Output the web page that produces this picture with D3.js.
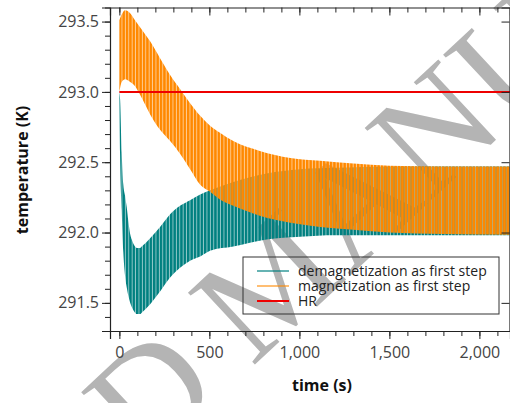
<!DOCTYPE html>
<html>
<head>
<meta charset="utf-8">
<script src="https://cdn.jsdelivr.net/npm/d3@7"></script>
<style>
  body { margin: 0; background: #fff; }
  svg { display: block; font-family: "Open Sans", sans-serif; }
  .axis path, .axis line { stroke: #222; }
  .axis text { fill: #444; font-size: 16px; font-family: "Open Sans", sans-serif; }
</style>
</head>
<body>
<svg id="chart"></svg>
<script>
// envelope of the oscillating temperature, magnetization as first step
const magTime  = [0, 13, 32, 60, 87, 115, 143, 171, 226, 282, 337, 393, 449, 504, 559, 633, 780, 950, 1115, 1300, 1500, 1800, 2170];
const magUpper = [293.51, 293.55, 293.58, 293.56, 293.51, 293.46, 293.41, 293.36, 293.24, 293.12, 293.02, 292.92, 292.83, 292.76, 292.71, 292.65, 292.58, 292.53, 292.51, 292.49, 292.475, 292.47, 292.47];
const magLower = [293.0, 293.07, 293.09, 293.07, 293.04, 292.98, 292.91, 292.84, 292.73, 292.65, 292.56, 292.45, 292.34, 292.29, 292.235, 292.19, 292.12, 292.07, 292.04, 292.02, 292.0, 291.99, 291.985];

// demagnetization as first step
const demagTime  = [0, 4, 13, 22, 32, 41, 50, 60, 69, 87, 97, 115, 124, 171, 226, 282, 337, 393, 449, 504, 633, 818, 1004, 1200, 1500, 2170];
const demagUpper = [293.0, 292.95, 292.57, 292.34, 292.26, 292.18, 292.08, 291.99, 291.95, 291.90, 291.89, 291.89, 291.90, 291.96, 292.04, 292.13, 292.19, 292.23, 292.27, 292.30, 292.36, 292.42, 292.45, 292.46, 292.47, 292.47];
const demagLower = [293.0, 292.55, 292.16, 291.86, 291.69, 291.61, 291.55, 291.50, 291.47, 291.43, 291.42, 291.42, 291.43, 291.49, 291.58, 291.68, 291.75, 291.80, 291.83, 291.87, 291.90, 291.95, 291.97, 291.98, 291.98, 291.98];

const hrValue = 293.0;
const xMajor = [0, 500, 1000, 1500, 2000];
const yMajor = [291.5, 292.0, 292.5, 293.0, 293.5];
const legendNames = ["demagnetization as first step", "magnetization as first step", "HR"];

const width = 510, height = 403;
const margin = {top: 7.5, right: 0, bottom: 72, left: 110};

const svg = d3.select("#chart").attr("width", width).attr("height", height);
svg.append("rect").attr("width", width).attr("height", height).attr("fill", "#fff");

// watermark behind the chart
const wm = svg.append("text")
    .text("ACCEPTED MANUSCRIPT")
    .attr("font-family", "Liberation Serif")
    .attr("font-size", 150)
    .attr("fill", "#b4b4b4");
const off = wm.node().getSubStringLength(0, 7);
wm.attr("transform", `translate(145,467) rotate(-43) translate(${-off},0)`);

const x = d3.scaleLinear().domain([-52, 2170]).range([margin.left, width - margin.right]);
const y = d3.scaleLinear().domain([291.3, 293.6]).range([height - margin.bottom, margin.top]);

const defs = svg.append("defs");
defs.append("clipPath").attr("id", "clip")
  .append("rect")
    .attr("x", margin.left).attr("y", margin.top)
    .attr("width", width - margin.left - margin.right)
    .attr("height", height - margin.top - margin.bottom);

function stripes(id, color) {
    const p = defs.append("pattern").attr("id", id)
        .attr("patternUnits", "userSpaceOnUse")
        .attr("width", 3.4).attr("height", 10);
    p.append("rect").attr("width", 2.5).attr("height", 10).attr("fill", color);
    p.append("rect").attr("x", 2.5).attr("width", 0.9).attr("height", 10)
        .attr("fill", color).attr("fill-opacity", 0.4);
}
stripes("tealStripes", "#008080");
stripes("orangeStripes", "#ff8800");

const plot = svg.append("g").attr("clip-path", "url(#clip)");

const area = d3.area()
    .x(d => x(d.t))
    .y0(d => y(d.lo))
    .y1(d => y(d.hi))
    .curve(d3.curveMonotoneX);

const demag = demagTime.map((t, i) => ({t: t, hi: demagUpper[i], lo: demagLower[i]}));
const mag = magTime.map((t, i) => ({t: t, hi: magUpper[i], lo: magLower[i]}));

plot.append("path").datum(demag).attr("d", area).attr("fill", "url(#tealStripes)");
plot.append("path").datum(mag).attr("d", area).attr("fill", "url(#orangeStripes)");

plot.append("line")
    .attr("x1", x(0)).attr("x2", x(2170))
    .attr("y1", y(hrValue)).attr("y2", y(hrValue))
    .attr("stroke", "#ee0000").attr("stroke-width", 2);

// axes
const xMinor = d3.range(0, 2200, 100);
const yMinor = d3.range(291.4, 293.65, 0.1);
const x0 = margin.left, x1 = width - margin.right - 0.5;
const y0 = height - margin.bottom, y1 = margin.top;

svg.append("g").attr("class", "axis").attr("transform", `translate(0,${y0})`)
    .call(d3.axisBottom(x).tickValues(xMinor).tickSize(5).tickFormat(""))
    .call(g => g.select(".domain").remove());
svg.append("g").attr("class", "axis").attr("transform", `translate(0,${y0})`)
    .call(d3.axisBottom(x).tickValues(xMajor).tickSize(8).tickPadding(8).tickFormat(d3.format(",")));

svg.append("g").attr("class", "axis").attr("transform", `translate(0,${y1})`)
    .call(d3.axisTop(x).tickValues(xMinor).tickSize(-5).tickFormat(""))
    .call(g => g.select(".domain").remove());
svg.append("g").attr("class", "axis").attr("transform", `translate(0,${y1})`)
    .call(d3.axisTop(x).tickValues(xMajor).tickSize(-8).tickFormat(""));

svg.append("g").attr("class", "axis").attr("transform", `translate(${x0},0)`)
    .call(d3.axisLeft(y).tickValues(yMinor).tickSize(5).tickFormat(""))
    .call(g => g.select(".domain").remove());
svg.append("g").attr("class", "axis").attr("transform", `translate(${x0},0)`)
    .call(d3.axisLeft(y).tickValues(yMajor).tickSize(8).tickPadding(3).tickFormat(d3.format(".1f")));

svg.append("g").attr("class", "axis").attr("transform", `translate(${x1},0)`)
    .call(d3.axisRight(y).tickValues(yMajor).tickSize(-8).tickFormat(""));

svg.selectAll(".axis .domain").attr("stroke-width", 1.2);

// axis titles
svg.append("text")
    .attr("x", 322).attr("y", 391)
    .attr("text-anchor", "middle")
    .attr("font-size", 16).attr("font-weight", "bold").attr("fill", "#111")
    .text("time (s)");
svg.append("text")
    .attr("transform", "translate(28,170) rotate(-90)")
    .attr("text-anchor", "middle")
    .attr("font-size", 16).attr("font-weight", "bold").attr("fill", "#111")
    .text("temperature (K)");

// legend
const legend = svg.append("g");
legend.append("rect")
    .attr("x", 243).attr("y", 257).attr("width", 256).attr("height", 57)
    .attr("fill", "none").attr("stroke", "#333").attr("stroke-width", 1);
const legendColors = ["#008080", "#ff8800", "#ee0000"];
const legendOpacity = [0.6, 0.55, 1];
legendNames.forEach((name, i) => {
    const ly = 271 + i * 15;
    legend.append("line")
        .attr("x1", 257).attr("x2", 289).attr("y1", ly).attr("y2", ly)
        .attr("stroke", legendColors[i]).attr("stroke-opacity", legendOpacity[i])
        .attr("stroke-width", 2);
    legend.append("text")
        .attr("x", 298).attr("y", ly).attr("dy", "0.35em")
        .attr("font-size", 14).attr("fill", "#222")
        .text(name);
});
</script>
</body>
</html>
